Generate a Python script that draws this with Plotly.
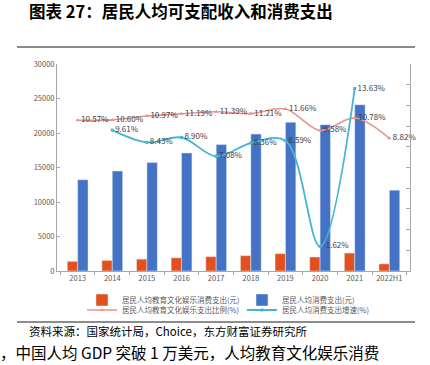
import plotly.graph_objects as go

categories = ["2013", "2014", "2015", "2016", "2017", "2018", "2019", "2020", "2021", "2022H1"]
edu_spend = [1398, 1536, 1723, 1915, 2086, 2226, 2513, 2032, 2599, 1033]
total_spend = [13220, 14491, 15712, 17111, 18322, 19853, 21559, 21210, 24100, 11712]
edu_ratio = [10.57, 10.60, 10.97, 11.19, 11.39, 11.21, 11.66, 9.58, 10.78, 8.82]
growth_cats = ["2014", "2015", "2016", "2017", "2018", "2019", "2020", "2021"]
growth = [9.61, 8.43, 8.90, 7.08, 8.36, 8.59, -1.62, 13.63]

names = ["居民人均教育文化娱乐消费支出(元)", "居民人均消费支出(元)",
         "居民人均教育文化娱乐支出比例(%)", "居民人均消费支出增速(%)"]

FONT = "Noto Sans CJK SC"

# plot area in pixels
L, R, T, B = 57, 410, 64, 271
W, H = 430, 365
def xp(px): return (px - L) / (R - L)
def yp(py): return (B - py) / (B - T)

fig = go.Figure()
fig.add_trace(go.Bar(x=categories, y=edu_spend, name=names[0], marker_color="#E2501E",
                     yaxis="y", legend="legend"))
fig.add_trace(go.Bar(x=categories, y=total_spend, name=names[1], marker_color="#4472C4",
                     yaxis="y", legend="legend2"))
fig.add_trace(go.Scatter(x=categories, y=edu_ratio, name=names[2], yaxis="y2",
                         mode="lines+markers+text", line=dict(color="#E8948E", width=1.6, shape="spline"),
                         marker=dict(symbol="triangle-up", size=4, color="#E8948E"),
                         texttemplate="%{y:.2f}%", textposition="middle right",
                         textfont=dict(size=8, color="#404040", family=FONT),
                         cliponaxis=False, legend="legend3"))
fig.add_trace(go.Scatter(x=growth_cats, y=growth, name=names[3], yaxis="y2",
                         mode="lines+markers+text", line=dict(color="#47B5D2", width=1.8, shape="spline"),
                         marker=dict(symbol="square", size=3, color="#47B5D2"),
                         texttemplate="%{y:.2f}%", textposition="middle right",
                         textfont=dict(size=8, color="#404040", family=FONT),
                         cliponaxis=False, legend="legend4"))

leg_common = dict(orientation="h", xanchor="left", yanchor="middle",
                  font=dict(size=7.5, color="#595959"),
                  bgcolor="rgba(0,0,0,0)", itemwidth=30, tracegroupgap=0)

fig.update_layout(
    width=W, height=H,
    margin=dict(l=L, r=W - R, t=T, b=H - B, pad=0),
    paper_bgcolor="white", plot_bgcolor="white",
    font=dict(family=FONT, color="#595959", size=8),
    barmode="group", bargap=0.4, bargroupgap=0,
    xaxis=dict(type="category", categoryorder="array", categoryarray=categories,
               showline=True, linecolor="#A6A6A6", linewidth=1, tickangle=0,
               ticks="outside", ticklen=3, tickcolor="#A6A6A6", tickson="boundaries",
               showgrid=False, tickfont=dict(size=7.5, color="#595959")),
    yaxis=dict(range=[0, 30000], dtick=5000, showgrid=False, zeroline=False,
               tickformat="d",
               showline=True, linecolor="#A6A6A6", linewidth=1,
               ticks="inside", ticklen=3, tickcolor="#A6A6A6",
               tickfont=dict(size=7.5, color="#595959")),
    yaxis2=dict(range=[-4, 16], dtick=2, overlaying="y", side="right",
                showgrid=False, zeroline=False, showticklabels=False,
                showline=True, linecolor="#A6A6A6", linewidth=1,
                ticks="inside", ticklen=4, tickcolor="#A6A6A6"),
    legend=dict(x=xp(82), y=yp(300), **leg_common),
    legend2=dict(x=xp(242), y=yp(300), **leg_common),
    legend3=dict(x=xp(82), y=yp(310), **leg_common),
    legend4=dict(x=xp(242), y=yp(310), **leg_common),
    showlegend=True,
)

fig.add_annotation(text="<b>图表 27：居民人均可支配收入和消费支出</b>", xref="paper", yref="paper",
                   x=xp(27), y=yp(11), xanchor="left", yanchor="middle", showarrow=False,
                   font=dict(size=16.5, color="#000000", family=FONT))
fig.add_annotation(text="资料来源：国家统计局，Choice，东方财富证券研究所", xref="paper", yref="paper",
                   x=xp(27), y=yp(331), xanchor="left", yanchor="middle", showarrow=False,
                   font=dict(size=11.5, color="#000000", family=FONT))
fig.add_annotation(text="，中国人均 GDP 突破 1 万美元，人均教育文化娱乐消费", xref="paper", yref="paper",
                   x=xp(-2), y=yp(352), xanchor="left", yanchor="middle", showarrow=False,
                   font=dict(size=15.5, color="#000000", family=FONT))
fig.add_shape(type="line", xref="paper", yref="paper", x0=xp(17), x1=xp(415), y0=yp(47), y1=yp(47),
              line=dict(color="#8C8C8C", width=2))
fig.add_shape(type="line", xref="paper", yref="paper", x0=xp(17), x1=xp(415), y0=yp(322), y1=yp(322),
              line=dict(color="#8C8C8C", width=2))

fig.write_html("out.html", config={"displayModeBar": False},
               post_script="document.body.style.margin='0px';")
